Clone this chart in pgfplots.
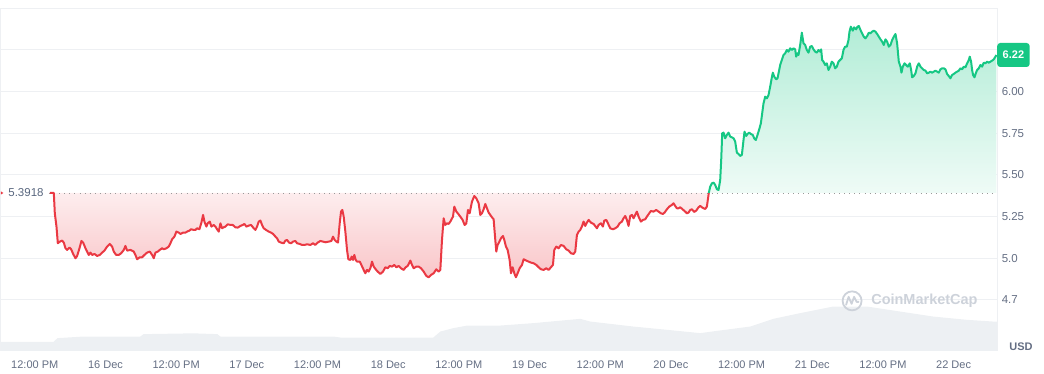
\documentclass[border=0pt]{standalone}
\usepackage{pgfplots}
\pgfplotsset{compat=1.18}
\usepackage{pgfplotstable}
\usepackage{fontspec}
\setmainfont{Liberation Sans}
\definecolor{cmcred}{HTML}{EA3943}
\definecolor{cmcgreen}{HTML}{16C784}
\definecolor{tickgrey}{HTML}{646E83}
\definecolor{labgrey}{HTML}{58667E}
\definecolor{gridgrey}{HTML}{EEF0F3}
\definecolor{volgrey}{HTML}{EDF0F3}
\definecolor{wmgrey}{HTML}{CDD2DA}

% time in days from 16 Dec 00:00, price in USD
\pgfplotstableread{
d v
-0.3936 5.3918
-0.3653 5.3918
-0.3583 5.270
-0.3465 5.190
-0.3371 5.090
-0.3229 5.100
-0.3064 5.106
-0.2946 5.094
-0.2828 5.060
-0.2711 5.050
-0.2546 5.064
-0.2428 5.054
-0.2286 5.026
-0.2121 5.000
-0.2003 5.014
-0.1838 5.060
-0.1697 5.104
-0.1579 5.094
-0.1414 5.060
-0.1296 5.040
-0.1179 5.020
-0.1061 5.034
-0.0943 5.020
-0.0778 5.026
-0.0589 5.014
-0.0401 5.020
-0.0236 5.034
-0.0071 5.046
0.0118 5.070
0.0306 5.086
0.0471 5.070
0.0589 5.040
0.0754 5.020
0.0943 5.020
0.1108 5.030
0.1296 5.050
0.1414 5.074
0.1532 5.046
0.1768 5.050
0.2003 5.040
0.2121 5.020
0.2239 4.994
0.2428 5.006
0.2593 5.006
0.2758 5.020
0.2946 5.034
0.3135 5.040
0.3300 5.020
0.3418 5.000
0.3536 5.034
0.3700 5.040
0.3842 5.050
0.4007 5.060
0.4125 5.054
0.4313 5.060
0.4478 5.070
0.4596 5.090
0.4714 5.114
0.4879 5.130
0.5020 5.160
0.5185 5.154
0.5303 5.146
0.5492 5.154
0.5657 5.154
0.5775 5.160
0.5940 5.166
0.6057 5.174
0.6246 5.170
0.6364 5.170
0.6482 5.180
0.6647 5.174
0.6788 5.214
0.6906 5.260
0.7000 5.220
0.7142 5.190
0.7236 5.210
0.7377 5.220
0.7495 5.190
0.7660 5.200
0.7778 5.190
0.7896 5.174
0.8014 5.160
0.8132 5.210
0.8250 5.180
0.8367 5.186
0.8485 5.190
0.8650 5.204
0.8839 5.200
0.9004 5.200
0.9192 5.186
0.9357 5.184
0.9546 5.194
0.9711 5.200
0.9829 5.206
0.9970 5.190
1.0135 5.196
1.0300 5.200
1.0489 5.180
1.0607 5.170
1.0724 5.190
1.0842 5.220
1.0960 5.226
1.1078 5.200
1.1196 5.180
1.1361 5.170
1.1549 5.160
1.1714 5.154
1.1856 5.146
1.2021 5.130
1.2139 5.120
1.2256 5.100
1.2421 5.094
1.2610 5.090
1.2728 5.106
1.2846 5.110
1.2987 5.094
1.3128 5.090
1.3270 5.100
1.3435 5.104
1.3553 5.090
1.3741 5.086
1.3906 5.080
1.4071 5.080
1.4260 5.084
1.4496 5.080
1.4684 5.090
1.4849 5.080
1.5014 5.094
1.5203 5.104
1.5391 5.100
1.5556 5.096
1.5792 5.100
1.5980 5.104
1.6098 5.130
1.6216 5.110
1.6334 5.100
1.6452 5.094
1.6570 5.210
1.6664 5.280
1.6758 5.290
1.6853 5.250
1.6970 5.160
1.7088 5.050
1.7183 4.994
1.7324 4.990
1.7418 5.010
1.7513 4.990
1.7607 5.020
1.7701 4.990
1.7796 4.980
1.7984 4.980
1.8102 4.960
1.8267 4.930
1.8385 4.910
1.8503 4.930
1.8621 4.920
1.8738 4.940
1.8856 4.980
1.8974 4.950
1.9116 4.934
1.9257 4.920
1.9446 4.906
1.9634 4.920
1.9799 4.946
1.9964 4.940
2.0105 4.954
2.0270 4.950
2.0435 4.960
2.0577 4.946
2.0742 4.954
2.0907 4.940
2.1095 4.930
2.1237 4.946
2.1378 4.954
2.1567 4.986
2.1685 4.960
2.1803 4.940
2.1991 4.950
2.2156 4.950
2.2321 4.940
2.2510 4.920
2.2698 4.894
2.2863 4.886
2.3028 4.900
2.3217 4.910
2.3405 4.934
2.3570 4.920
2.3688 4.930
2.3806 5.110
2.3924 5.240
2.4042 5.200
2.4160 5.210
2.4277 5.206
2.4395 5.220
2.4584 5.250
2.4678 5.310
2.4820 5.280
2.4961 5.266
2.5102 5.250
2.5267 5.230
2.5409 5.200
2.5527 5.210
2.5644 5.290
2.5762 5.270
2.5927 5.340
2.6092 5.374
2.6234 5.360
2.6399 5.330
2.6517 5.260
2.6634 5.270
2.6752 5.294
2.6870 5.326
2.6988 5.300
2.7106 5.274
2.7224 5.260
2.7341 5.246
2.7459 5.234
2.7577 5.110
2.7648 5.040
2.7742 5.080
2.7836 5.094
2.7978 5.120
2.8119 5.134
2.8214 5.110
2.8332 5.070
2.8449 5.050
2.8591 4.990
2.8685 4.910
2.8803 4.946
2.8921 4.910
2.9038 4.886
2.9156 4.910
2.9298 4.940
2.9463 4.960
2.9581 4.994
2.9769 4.986
2.9934 4.980
3.0099 4.974
3.0288 4.970
3.0476 4.960
3.0641 4.946
3.0806 4.934
3.0995 4.930
3.1184 4.940
3.1349 4.930
3.1513 4.946
3.1655 4.960
3.1750 5.050
3.1891 5.070
3.2056 5.060
3.2221 5.080
3.2410 5.074
3.2598 5.054
3.2763 5.046
3.2928 5.030
3.3117 5.026
3.3234 5.040
3.3352 5.140
3.3470 5.160
3.3588 5.170
3.3705 5.190
3.3823 5.220
3.3941 5.194
3.4059 5.214
3.4177 5.230
3.4342 5.214
3.4530 5.206
3.4766 5.180
3.4884 5.200
3.5049 5.210
3.5190 5.190
3.5285 5.226
3.5426 5.230
3.5544 5.210
3.5709 5.180
3.5898 5.174
3.6063 5.180
3.6227 5.190
3.6369 5.210
3.6534 5.220
3.6652 5.240
3.6769 5.254
3.6887 5.230
3.7005 5.194
3.7123 5.254
3.7241 5.260
3.7359 5.240
3.7476 5.260
3.7594 5.280
3.7712 5.250
3.7877 5.220
3.8019 5.230
3.8184 5.234
3.8302 5.250
3.8467 5.270
3.8585 5.284
3.8773 5.280
3.8962 5.290
3.9127 5.280
3.9291 5.270
3.9433 5.266
3.9551 5.274
3.9716 5.294
3.9881 5.310
4.0069 5.320
4.0187 5.330
4.0305 5.314
4.0423 5.300
4.0541 5.300
4.0658 5.306
4.0823 5.294
4.1012 5.280
4.1130 5.270
4.1248 5.274
4.1366 5.290
4.1484 5.294
4.1649 5.278
4.1790 5.286
4.1955 5.306
4.2073 5.314
4.2191 5.306
4.2309 5.300
4.2426 5.296
4.2544 5.310
4.2680 5.3918
}\redtab

\pgfplotstableread{
d v
4.2680 5.3918
4.2780 5.430
4.2898 5.450
4.3016 5.454
4.3134 5.440
4.3252 5.414
4.3369 5.410
4.3487 5.470
4.3558 5.590
4.3629 5.750
4.3723 5.754
4.3841 5.720
4.3959 5.740
4.4077 5.754
4.4194 5.730
4.4312 5.726
4.4430 5.720
4.4548 5.700
4.4666 5.634
4.4784 5.626
4.4901 5.614
4.5019 5.620
4.5137 5.710
4.5208 5.760
4.5326 5.734
4.5420 5.746
4.5538 5.754
4.5656 5.746
4.5797 5.740
4.5891 5.720
4.6009 5.710
4.6127 5.740
4.6268 5.780
4.6363 5.810
4.6457 5.870
4.6551 5.930
4.6669 5.970
4.6787 5.960
4.6905 5.980
4.7023 6.030
4.7140 6.086
4.7211 6.114
4.7306 6.090
4.7447 6.074
4.7541 6.080
4.7636 6.120
4.7730 6.160
4.7848 6.190
4.7966 6.220
4.8083 6.230
4.8201 6.250
4.8319 6.240
4.8437 6.260
4.8555 6.250
4.8673 6.260
4.8790 6.254
4.8861 6.210
4.8955 6.230
4.9026 6.220
4.9144 6.280
4.9262 6.354
4.9380 6.290
4.9498 6.280
4.9615 6.250
4.9733 6.234
4.9851 6.270
4.9969 6.274
5.0087 6.254
5.0205 6.240
5.0322 6.234
5.0440 6.250
5.0558 6.240
5.0629 6.254
5.0700 6.190
5.0794 6.180
5.0912 6.160
5.1030 6.170
5.1148 6.130
5.1266 6.150
5.1383 6.180
5.1501 6.170
5.1619 6.140
5.1737 6.150
5.1855 6.180
5.1973 6.190
5.2090 6.200
5.2208 6.250
5.2326 6.270
5.2444 6.270
5.2562 6.310
5.2633 6.360
5.2727 6.390
5.2868 6.366
5.2962 6.386
5.3104 6.374
5.3198 6.390
5.3293 6.394
5.3411 6.370
5.3528 6.350
5.3646 6.330
5.3764 6.320
5.3882 6.334
5.4000 6.354
5.4118 6.350
5.4236 6.360
5.4353 6.366
5.4471 6.360
5.4589 6.346
5.4707 6.330
5.4825 6.314
5.4943 6.300
5.5060 6.280
5.5178 6.314
5.5296 6.300
5.5414 6.270
5.5532 6.280
5.5650 6.310
5.5767 6.330
5.5885 6.346
5.6003 6.290
5.6121 6.180
5.6239 6.150
5.6310 6.114
5.6404 6.150
5.6522 6.170
5.6640 6.160
5.6758 6.150
5.6899 6.170
5.6993 6.130
5.7064 6.086
5.7182 6.094
5.7300 6.110
5.7418 6.150
5.7536 6.170
5.7653 6.150
5.7771 6.140
5.7889 6.130
5.8007 6.126
5.8125 6.110
5.8243 6.114
5.8360 6.120
5.8478 6.114
5.8596 6.120
5.8714 6.126
5.8832 6.120
5.8950 6.114
5.9067 6.134
5.9185 6.140
5.9303 6.140
5.9421 6.134
5.9539 6.106
5.9657 6.094
5.9774 6.080
5.9892 6.100
6.0010 6.106
6.0128 6.114
6.0246 6.120
6.0364 6.126
6.0481 6.140
6.0599 6.134
6.0717 6.150
6.0835 6.146
6.0953 6.170
6.1071 6.190
6.1141 6.210
6.1236 6.180
6.1307 6.130
6.1377 6.100
6.1472 6.086
6.1566 6.110
6.1660 6.130
6.1778 6.140
6.1896 6.160
6.2014 6.150
6.2132 6.174
6.2250 6.170
6.2367 6.180
6.2485 6.174
6.2603 6.180
6.2721 6.186
6.2839 6.194
6.2957 6.210
6.3020 6.220
}\greentab

% relative traded volume (arbitrary units)
\pgfplotstableread{
d v
-0.7425 9.0
-0.3680 9.0
-0.3390 12.7
-0.1560 14.3
0.2470 14.3
0.2690 16.7
0.6220 17.5
0.7920 16.7
0.8130 14.3
1.6120 14.3
1.6620 13.3
2.3190 13.3
2.3690 19.3
2.4610 22.7
2.5600 25.3
2.7930 25.3
3.0260 27.7
3.3590 32.0
3.4300 29.3
3.7340 24.3
3.9740 21.0
4.2070 17.7
4.3280 20.0
4.5610 24.3
4.7240 32.0
4.9140 37.7
5.1480 44.3
5.3880 44.3
5.6220 39.3
5.8550 34.3
6.0950 31.0
6.2790 29.3
6.3070 29.3
}\voltab

\begin{document}
\begin{tikzpicture}
% volume layer
\begin{axis}[at={(0pt,23pt)}, anchor=south west, scale only axis,
  width=997pt, height=343pt, xmin=-0.7425, xmax=6.307, ymin=0, ymax=343,
  hide axis]
\addplot[draw=none, fill=volgrey] table {\voltab} \closedcycle;
\end{axis}
% price layer
\begin{axis}[at={(0pt,23pt)}, anchor=south west, scale only axis,
  width=997pt, height=343pt, xmin=-0.7425, xmax=6.307,
  ymin=4.4445, ymax=6.5021, clip=false,
  axis line style={draw=none}, major tick length=0pt,
  ymajorgrids, grid style={gridgrey, line width=1pt},
  ytick={4.75,5,5.25,5.5,5.75,6,6.25,6.5},
  yticklabels={4.7,5.0,5.25,5.50,5.75,6.00,{},{}},
  yticklabel pos=right,
  yticklabel style={anchor=west, xshift=1.2pt, text=tickgrey, font=\fontsize{11.5}{13}\selectfont},
  xtick={-0.5,0,0.5,1,1.5,2,2.5,3,3.5,4,4.5,5,5.5,6},
  xticklabels={12:00 PM,16 Dec,12:00 PM,17 Dec,12:00 PM,18 Dec,12:00 PM,19 Dec,12:00 PM,20 Dec,12:00 PM,21 Dec,12:00 PM,22 Dec},
  xticklabel style={anchor=base, yshift=-18pt, text=tickgrey, font=\fontsize{11}{13}\selectfont},
]
% frame sides
\draw[gridgrey, line width=1pt] (rel axis cs:0,0) -- (rel axis cs:0,1);
\draw[gridgrey, line width=1pt] (rel axis cs:1,0) -- (rel axis cs:1,1);
% fills (series start and end on the opening price, so the cycle closes along it)
\addplot[draw=none, top color=cmcred!9, bottom color=cmcred!29] table {\redtab} -- cycle;
\addplot[draw=none, top color=cmcgreen!33, bottom color=cmcgreen!7] table {\greentab} -- (axis cs:6.3020,5.3918) -- cycle;
% reference (opening) price
\draw[black!40, line width=0.9pt, dash pattern=on 0.9pt off 4.2pt] (axis cs:-0.40,5.3918) -- (axis cs:6.307,5.3918);
% price lines
\addplot[cmcred, line width=2pt, line join=round] table {\redtab};
\addplot[cmcgreen, line width=2pt, line join=round] table {\greentab};
% labels
\node[anchor=west, inner sep=0pt, text=labgrey, font=\fontsize{11.5}{13}\selectfont] at (axis cs:-0.688,5.3918) {5.3918};
\fill[cmcred] (axis cs:-0.7305,5.3918) ++(-1.2pt,1.5pt) -- ++(2.4pt,-1.5pt) -- ++(-2.4pt,-1.5pt) -- cycle;
\node[anchor=west, fill=cmcgreen, rounded corners=3pt, text=white, inner xsep=5.5pt, minimum height=24pt,
  font=\bfseries\fontsize{11}{13}\selectfont] at (axis cs:6.307,6.22) {6.22};
\end{axis}
% USD label
\node[text=tickgrey, font=\bfseries\fontsize{11}{13}\selectfont] at (1021pt,27pt) {USD};
% watermark
\draw[wmgrey, line width=1.8pt] (852pt,73pt) circle (9.5pt);
\draw[wmgrey, line width=1.8pt, line join=round, line cap=round] (846pt,69pt) -- (848.5pt,77pt) -- (851.5pt,70pt) -- (854pt,77pt) -- (856.5pt,72pt) -- (858.5pt,72pt);
\node[text=wmgrey, font=\bfseries\fontsize{14.5}{16}\selectfont, anchor=west, inner sep=0pt] at (871pt,73pt) {CoinMarketCap};
\path (0,0) rectangle (1044pt,374pt);
\end{tikzpicture}
\end{document}
